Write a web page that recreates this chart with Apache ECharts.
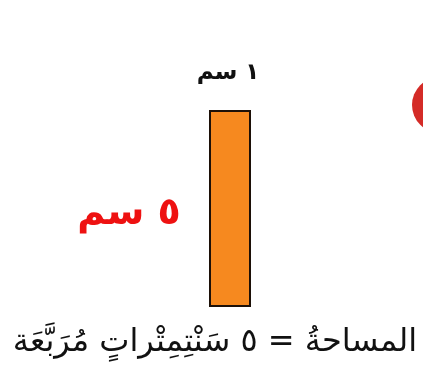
<!DOCTYPE html>
<html><head><meta charset="utf-8">
<script src="https://cdn.jsdelivr.net/npm/echarts@6/dist/echarts.min.js"></script>
<style>html,body{margin:0;padding:0;background:#fff}#c{width:423px;height:377px}</style>
</head><body><div id="c"></div>
<script>
var categories = ['مستطيل'];
var heights = [5];
var widths = [1];
var widthLabel = '١ سم';
var heightLabel = '٥ سم';
var areaLabel = 'المساحةُ = ٥ سَنْتِمِتْراتٍ مُرَبَّعَة';

var chart = echarts.init(document.getElementById('c'), null, {renderer: 'canvas'});
chart.setOption({
  animation: false,
  backgroundColor: '#ffffff',
  grid: {left: 209, width: 42, top: 110, height: 197},
  xAxis: {type: 'category', data: categories, show: false},
  yAxis: {type: 'value', min: 0, max: heights[0], show: false},
  series: [{
    type: 'bar',
    data: heights,
    barWidth: '100%',
    itemStyle: {color: '#f6891f', borderColor: '#1c1008', borderWidth: 2}
  }],
  graphic: [
    {type: 'circle', shape: {cx: 440, cy: 105, r: 28}, style: {fill: '#d42b27'}},
    {type: 'text', x: 228, y: 73, style: {text: widthLabel, font: 'bold 23px "DejaVu Sans"', fill: '#111', align: 'center', verticalAlign: 'middle'}},
    {type: 'text', x: 129, y: 214, style: {text: heightLabel, font: 'bold 38px "DejaVu Sans"', fill: '#ee1111', align: 'center', verticalAlign: 'middle'}},
    {type: 'text', x: 215, y: 343, style: {text: areaLabel, font: '32px "DejaVu Sans"', fill: '#111', align: 'center', verticalAlign: 'middle'}}
  ]
});
</script></body></html>
